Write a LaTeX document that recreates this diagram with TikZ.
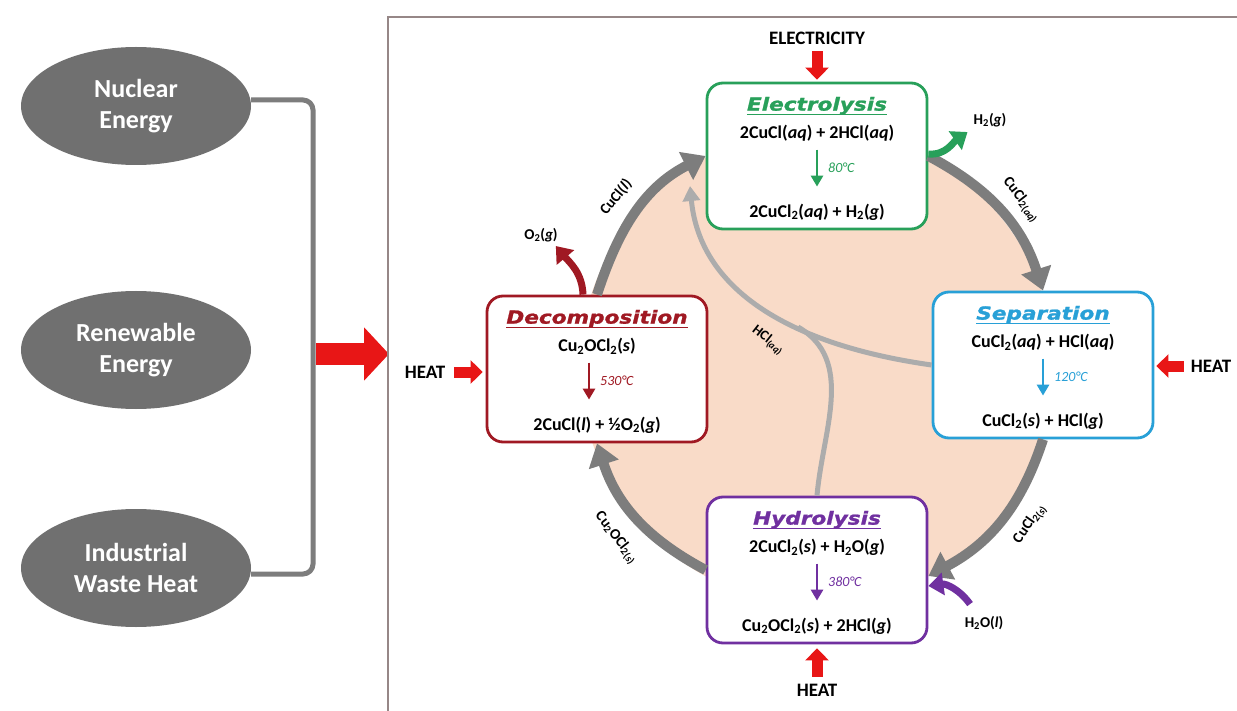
\documentclass[tikz,border=0pt]{standalone}
\usepackage{fontspec}
\setmainfont{Carlito}
\newfontfamily\titlefont[FakeStretch=1.2, BoldItalicFeatures={FakeBold=1.2}]{DejaVu Sans}
\usetikzlibrary{arrows.meta,calc,shapes.geometric}

\definecolor{elgreen}{RGB}{40,160,90}
\definecolor{sepblue}{RGB}{40,160,215}
\definecolor{hydpurple}{RGB}{112,48,160}
\definecolor{decred}{RGB}{160,25,35}
\definecolor{heatred}{RGB}{232,22,22}
\definecolor{loopgray}{RGB}{125,125,125}
\definecolor{hclgray}{RGB}{172,172,172}
\definecolor{ovalgray}{RGB}{112,112,112}
\definecolor{peach}{RGB}{249,219,200}
\definecolor{framegray}{RGB}{150,135,135}

\newcommand{\chsub}[1]{\textsubscript{#1}}
\newcommand{\phs}[1]{(\textit{#1})}

% one process stage: box, underlined title, two reaction lines, inner arrow, temperature
\newcommand{\makestage}[8]{%
  \node[stage=#2] (#1) at (#3) {};
  \node[stagetitle=#2, anchor=base] (#1T) at ([yshift=-29pt]#1.north) {#4};
  \draw[draw=#2, line width=1.6pt] ([yshift=-4pt]#1T.base west) -- ([yshift=-4pt]#1T.base east);
  \node[chem, anchor=base] (#1A) at ([yshift=-57pt]#1.north) {#5};
  \node[chem, anchor=base] (#1B) at ([yshift=13pt]#1.south) {#7};
  \coordinate (#1s) at ([xshift=#8, yshift=-68pt]#1.north);
  \coordinate (#1e) at ([xshift=#8, yshift=-105pt]#1.north);
  \draw[rxn=#2] (#1s) -- (#1e);
  \node[temp=#2] (#1C) at ($(#1s)!.5!(#1e)+(11,0)$) {#6};
}

\begin{document}
\begin{tikzpicture}[x=1pt,y=1pt,
  stage/.style={draw=#1, line width=2.8pt, rounded corners=16pt, fill=white,
    minimum width=220pt, minimum height=146pt, inner sep=0pt},
  stagetitle/.style={text=#1, font=\titlefont\bfseries\itshape\fontsize{18}{20}\selectfont, inner sep=0pt},
  chem/.style={font=\bfseries\fontsize{18}{20}\selectfont, inner sep=0pt},
  temp/.style={text=#1, font=\itshape\fontsize{14}{16}\selectfont, inner sep=0pt, anchor=west},
  rxn/.style={draw=#1, line width=2.8pt, -{Triangle[width=12pt,length=11pt]}},
  loop/.style={draw=loopgray, line width=10pt, -{Triangle[width=30pt,length=22pt]}},
  hcl/.style={draw=hclgray, line width=5pt},
  flowlabel/.style={font=\bfseries\fontsize{15}{17}\selectfont, inner sep=0pt},
  heat/.style={font=\bfseries\fontsize{19}{21}\selectfont, inner sep=0pt},
  heatarrow/.style={draw=heatred, line width=11pt, -{Triangle[width=23pt,length=12pt]}},
  side/.style={draw=#1, line width=7pt, -{Triangle[width=22pt,length=15pt]}},
  oval/.style={ellipse, fill=ovalgray, text=white, align=center, inner sep=0pt,
    minimum width=230pt, minimum height=118pt,
    font=\bfseries\fontsize{26}{31}\selectfont},
  bracket/.style={draw=loopgray, line width=5pt, rounded corners=10pt}
]
\useasboundingbox (0,0) rectangle (1237,-711);
\fill[white] (0,0) rectangle (1237,-711);

% energy sources
\node[oval] (nuc) at (136,-106) {Nuclear\\Energy};
\node[oval] (ren) at (136,-350) {Renewable\\Energy};
\node[oval] (ind) at (136,-568) {Industrial\\Waste Heat};
\coordinate (bartop) at (313,-100);
\coordinate (barbot) at (313,-574);
\draw[bracket] ([yshift=6pt]nuc.east) -- (bartop) -- (barbot) -- ([yshift=-6pt]ind.east);
\coordinate (feed) at (316,-354);
\coordinate (frameL) at (389,-354);
\draw[draw=heatred, line width=22pt, -{Triangle[width=52pt,length=25pt]}] (feed) -- (frameL);

% cycle frame
\draw[framegray, line width=2pt] (388,-711) -- (388,-17) -- (1237,-17);

% background disc of the cycle
\fill[peach] (817,-367) circle (237);

% stages
\makestage{ele}{elgreen}{817,-156}{Electrolysis}{2CuCl\phs{aq} + 2HCl\phs{aq}}{80°C}{2CuCl\chsub{2}\phs{aq} + H\chsub{2}\phs{g}}{0pt}
\makestage{sep}{sepblue}{1043,-365}{Separation}{CuCl\chsub{2}\phs{aq} + HCl\phs{aq}}{120°C}{CuCl\chsub{2}\phs{s} + HCl\phs{g}}{0pt}
\makestage{hyd}{hydpurple}{817,-570}{Hydrolysis}{2CuCl\chsub{2}\phs{s} + H\chsub{2}O\phs{g}}{380°C}{Cu\chsub{2}OCl\chsub{2}\phs{s} + 2HCl\phs{g}}{0pt}
\makestage{dec}{decred}{597,-369}{Decomposition}{Cu\chsub{2}OCl\chsub{2}\phs{s}}{530°C}{2CuCl\phs{l} + ½O\chsub{2}\phs{g}}{-8pt}

% HCl recycle
\coordinate (hcltip) at (690,-186);
\coordinate (hcljoin) at (798,-327);
\draw[hcl] (hyd.north) to[out=85,in=-30] (hcljoin);
\draw[hcl, -{Triangle[width=17pt,length=15pt]}] (sep.west) .. controls (790,-345) and (700,-290) .. (hcltip);
\node[flowlabel, font=\bfseries\fontsize{14}{16}\selectfont, rotate=-38] (hcllab) at (768,-340) {HCl\chsub{\phs{aq}}};

% main loop
\draw[loop] (dec.north) to[out=72,in=-153] (ele.west);
\draw[loop] (ele.east) to[out=-28,in=108] (sep.north);
\draw[loop] (sep.south) to[out=-108,in=28] ([yshift=-6pt]hyd.east);
\draw[loop] (hyd.west) to[out=152,in=-72] (dec.south);

\node[flowlabel, rotate=50] (l1) at (616,-197) {CuCl\phs{l}};
\node[flowlabel, rotate=-52] (l2) at (1021,-200) {CuCl\chsub{2}\chsub{\phs{aq}}};
\node[flowlabel, rotate=55] (l3) at (1030,-524) {CuCl\chsub{2}\chsub{\phs{s}}};
\node[flowlabel, rotate=-52] (l4) at (616,-538) {Cu\chsub{2}OCl\chsub{2}\chsub{\phs{s}}};

% products and feeds
\node[flowlabel] (o2) at (541,-235) {O\chsub{2}\phs{g}};
\draw[side=decred] ([xshift=-14pt]dec.north) to[out=92,in=-50] ([xshift=-2pt,yshift=-4pt]o2.south east);
\node[flowlabel] (h2) at (990,-120) {H\chsub{2}\phs{g}};
\draw[side=elgreen] ([yshift=2pt]ele.east) to[out=-5,in=-145] ([xshift=-6pt,yshift=-5pt]h2.south west);
\node[flowlabel] (h2o) at (984,-623) {H\chsub{2}O\phs{l}};
\draw[side=hydpurple] ([xshift=-14pt,yshift=12pt]h2o.north) to[out=125,in=8] ([yshift=-16pt]hyd.east);

% heat and electricity inputs
\node[heat] (elec) at (817,-38) {ELECTRICITY};
\draw[heatarrow, shorten <=7pt, shorten >=2pt] (elec.south) -- (ele.north);
\node[heat] (heatL) at (425,-372) {HEAT};
\draw[heatarrow, shorten <=9pt, shorten >=3pt] (heatL.east) -- (heatL.east -| dec.west);
\node[heat] (heatR) at (1211,-366) {HEAT};
\draw[heatarrow, shorten <=7pt, shorten >=2pt] (heatR.west) -- (heatR.west -| sep.east);
\node[heat] (heatB) at (817,-690) {HEAT};
\draw[heatarrow, shorten <=7pt, shorten >=4pt] (heatB.north) -- (hyd.south);
\end{tikzpicture}
\end{document}
